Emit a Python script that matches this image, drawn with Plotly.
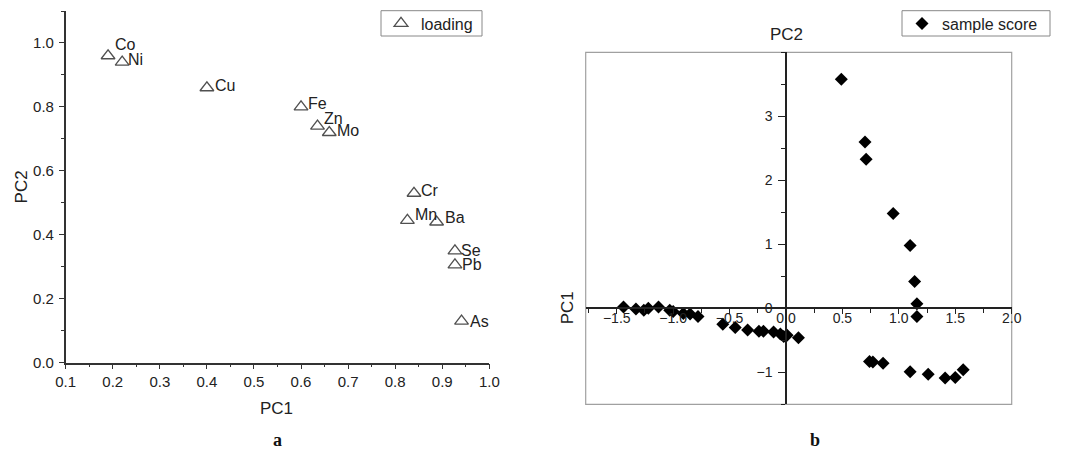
import plotly.graph_objects as go

W, H = 1078, 452

# ---- data: panel a (loadings) ----
elements = ["Co", "Ni", "Cu", "Fe", "Zn", "Mo", "Cr", "Mn", "Ba", "Se", "Pb", "As"]
pc1_load = [0.19, 0.22, 0.40, 0.60, 0.635, 0.66, 0.84, 0.826, 0.888, 0.927, 0.927, 0.941]
pc2_load = [0.96, 0.94, 0.86, 0.80, 0.74, 0.72, 0.53, 0.445, 0.44, 0.35, 0.306, 0.13]

# ---- data: panel b (sample scores) ----
score_x = [-1.44, -1.33, -1.26, -1.22, -1.13, -1.03, -1.00, -0.91, -0.85, -0.78,
           -0.56, -0.45, -0.34, -0.24, -0.20, -0.11, -0.05, -0.02, 0.01, 0.11,
           0.49, 0.70, 0.71, 0.95, 1.10, 1.14, 1.16, 1.16,
           0.74, 0.77, 0.86, 1.10, 1.26, 1.41, 1.50, 1.57]
score_y = [0.02, -0.01, -0.03, 0.00, 0.02, -0.03, -0.05, -0.08, -0.09, -0.13,
           -0.25, -0.30, -0.34, -0.36, -0.36, -0.37, -0.40, -0.44, -0.42, -0.46,
           3.58, 2.60, 2.33, 1.48, 0.98, 0.42, 0.07, -0.13,
           -0.83, -0.84, -0.86, -0.99, -1.03, -1.09, -1.08, -0.96]

xb_ticks = [-1.5, -1.0, -0.5, 0.0, 0.5, 1.0, 1.5, 2.0]
yb_ticks = [-1, 0, 1, 2, 3]

# ---- styling: label offsets (pixels) for element names ----
LABEL_SHIFT = {"Co": (6, 11), "Ni": (5, 3), "Cu": (7, 2), "Fe": (6, 3), "Zn": (5, 8),
               "Mo": (7, 2), "Cr": (6, 3), "Mn": (7, 6), "Ba": (7, 5), "Se": (5, 0),
               "Pb": (6, 0), "As": (7, 0)}

# ---- layout geometry ----
xa_dom = [65.7 / W, 489.3 / W]
ya_dom = [(H - 362.7) / H, (H - 11) / H]
xb_dom = [585.7 / W, 1011.7 / W]
yb_dom = [(H - 404.3) / H, (H - 52.3) / H]
xb_range = [-1.775, 2.0]
yb_range = [-1.5, 4.0]
xaxis_pos = yb_dom[0] + (0 - yb_range[0]) / (yb_range[1] - yb_range[0]) * (yb_dom[1] - yb_dom[0])
yaxis_pos = xb_dom[0] + (0 - xb_range[0]) / (xb_range[1] - xb_range[0]) * (xb_dom[1] - xb_dom[0])

FONT = "Liberation Sans, Arial, sans-serif"
SERIF = "Liberation Serif, Times New Roman, serif"
TXT = "#222222"

fig = go.Figure()

fig.add_trace(go.Scatter(
    x=pc1_load, y=pc2_load, mode="markers",
    marker=dict(symbol="triangle-up-open", size=12, color="#505050", line=dict(width=1.3)),
    name="loading", xaxis="x", yaxis="y", legend="legend", showlegend=True, cliponaxis=False,
))

fig.add_trace(go.Scatter(
    x=score_x, y=score_y, mode="markers",
    marker=dict(symbol="diamond", size=10, color="#000000"),
    name="sample score", xaxis="x2", yaxis="y2", legend="legend2", showlegend=True, cliponaxis=False,
))

annotations = []
for el, xv, yv in zip(elements, pc1_load, pc2_load):
    dx, dy = LABEL_SHIFT[el]
    annotations.append(dict(text=el, x=xv, y=yv, xref="x", yref="y", showarrow=False,
                            xanchor="left", yanchor="middle", xshift=dx - 1, yshift=dy,
                            font=dict(family=FONT, size=16, color=TXT)))

tickfont = dict(family=FONT, size=15, color=TXT)
tickfont_b = dict(family=FONT, size=14, color=TXT)
title_font = dict(family=FONT, size=17, color=TXT)

annotations += [
    # panel a axis titles
    dict(text="PC1", xref="paper", yref="paper", x=276.7 / W, y=1 - 408 / H, showarrow=False,
         font=title_font, xanchor="center", yanchor="middle"),
    dict(text="PC2", xref="paper", yref="paper", x=21.7 / W, y=1 - 186.7 / H, showarrow=False,
         textangle=-90, font=title_font, xanchor="center", yanchor="middle"),
    # panel b axis titles
    dict(text="PC2", xref="paper", yref="paper", x=yaxis_pos, y=1 - 34 / H, showarrow=False,
         font=title_font, xanchor="center", yanchor="middle"),
    dict(text="PC1", xref="paper", yref="paper", x=567 / W, y=xaxis_pos, showarrow=False, textangle=-90,
         font=title_font, xanchor="center", yanchor="middle"),
    # panel letters
    dict(text="<b>a</b>", xref="paper", yref="paper", x=277 / W, y=0, showarrow=False,
         font=dict(family=SERIF, size=18, color="#111111"), xanchor="center", yanchor="bottom"),
    dict(text="<b>b</b>", xref="paper", yref="paper", x=815 / W, y=0, showarrow=False,
         font=dict(family=SERIF, size=18, color="#111111"), xanchor="center", yanchor="bottom"),
]

legend_common = dict(xanchor="left", yanchor="middle", visible=True, borderwidth=0,
                     bgcolor="rgba(0,0,0,0)", font=dict(family=FONT, size=16, color=TXT), itemwidth=30)

fig.update_layout(
    width=W, height=H,
    margin=dict(l=0, r=0, t=0, b=0, autoexpand=False),
    paper_bgcolor="white", plot_bgcolor="white",
    font=dict(family=FONT, color=TXT),
    showlegend=True,
    xaxis=dict(domain=xa_dom, range=[0.1, 1.0], anchor="y", dtick=0.1, tick0=0.1, tickformat=".1f",
               automargin=False,
               showgrid=False, zeroline=False, showline=True, linecolor="#333333", linewidth=1.5,
               ticks="outside", ticklen=5, tickwidth=1.2, tickcolor="#333333", tickfont=tickfont,
               minor=dict(ticks="outside", ticklen=3, dtick=0.05, tick0=0.1, tickcolor="#333333", showgrid=False)),
    yaxis=dict(domain=ya_dom, range=[0, 1.1], anchor="x", dtick=0.2, tickformat=".1f",
               automargin=False,
               showgrid=False, zeroline=False, showline=True, linecolor="#333333", linewidth=1.5,
               ticks="outside", ticklen=5, tickwidth=1.2, tickcolor="#333333", tickfont=tickfont,
               ticklabelstandoff=2,
               minor=dict(ticks="outside", ticklen=3, dtick=0.1, tickcolor="#333333", showgrid=False)),
    xaxis2=dict(domain=xb_dom, range=xb_range, anchor="free", position=xaxis_pos,
                tickvals=xb_ticks, tickformat=".1f", automargin=False,
                showgrid=False, zeroline=False, showline=True, linecolor="#222222", linewidth=1.5,
                ticks="outside", ticklen=5, tickwidth=1.2, tickcolor="#222222", tickfont=tickfont_b,
                ticklabelstandoff=-8,
                minor=dict(ticks="outside", ticklen=4, dtick=0.25, tick0=0, tickcolor="#222222", showgrid=False)),
    yaxis2=dict(domain=yb_dom, range=yb_range, anchor="free", position=yaxis_pos,
                tickvals=yb_ticks, automargin=False,
                showgrid=False, zeroline=False, showline=True, linecolor="#222222", linewidth=1.5,
                ticks="outside", ticklen=7, tickwidth=1.2, tickcolor="#222222", tickfont=tickfont_b,
                ticklabelstandoff=3,
                minor=dict(ticks="outside", ticklen=4, dtick=0.5, tick0=0.5, tickcolor="#222222", showgrid=False)),
    legend=dict(x=381 / W, y=1 - 23.5 / H, **legend_common),
    legend2=dict(x=902 / W, y=1 - 23.5 / H, **legend_common),
    shapes=[
        dict(type="rect", xref="x2 domain", yref="y2 domain", x0=0, x1=1, y0=0, y1=1,
             line=dict(color="#a0a0a0", width=1.2), layer="below"),
        dict(type="rect", xref="paper", yref="paper", x0=381 / W, x1=482 / W,
             y0=1 - 36 / H, y1=1 - 10.7 / H, line=dict(color="#888888", width=1), layer="below"),
        dict(type="rect", xref="paper", yref="paper", x0=902 / W, x1=1050 / W,
             y0=1 - 36 / H, y1=1 - 10.7 / H, line=dict(color="#888888", width=1), layer="below"),
    ],
    annotations=annotations,
)

fig.write_html("out.html", config={"displayModeBar": False},
               post_script="document.body.style.margin='0';")
